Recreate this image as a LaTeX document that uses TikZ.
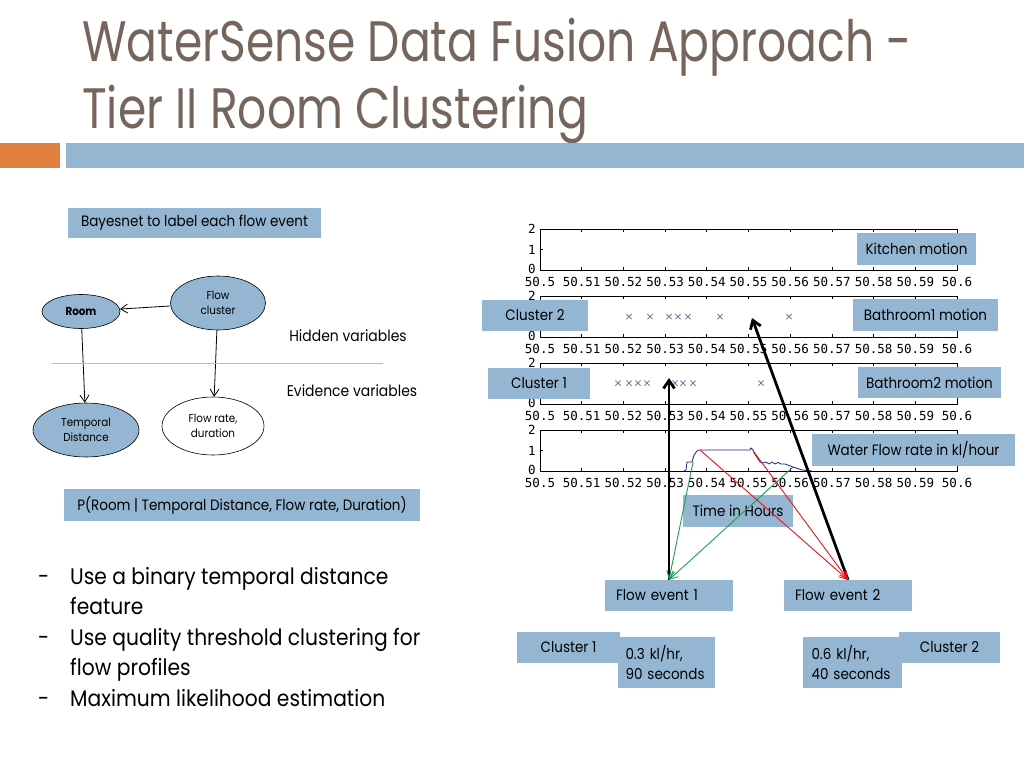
\documentclass[tikz,border=0pt]{standalone}
\usepackage{fontspec}
\setmainfont{Poppins}[FakeStretch=0.9]
\newfontfamily\titlefont{Poppins}[FakeStretch=0.8]
\newfontfamily\plotmono{DejaVu Sans Mono}
\usetikzlibrary{arrows.meta,shapes.geometric}
\definecolor{boxblue}{RGB}{148,182,210}
\definecolor{titlebrown}{RGB}{118,101,92}
\definecolor{barorange}{RGB}{224,128,64}
\definecolor{sepblue}{RGB}{157,195,230}
\definecolor{flowgreen}{RGB}{30,160,80}
\definecolor{flowred}{RGB}{232,20,28}
\definecolor{curvenavy}{RGB}{30,40,120}
\definecolor{markgray}{RGB}{95,105,150}
\newcommand{\fsz}[2]{\fontsize{#1}{#2}\selectfont}
\tikzset{
  titletxt/.style={inner sep=0pt, text=titlebrown, font=\titlefont\fsz{57}{62}},
  lbl/.style={fill=boxblue, inner sep=0pt, text=black, font=\fsz{15}{20}},
  lbll/.style={lbl, align=left, inner ysep=0pt},
  bnnode/.style={ellipse, draw=black, line width=0.6pt, fill=boxblue, inner sep=0pt, align=center, font=\fsz{11.5}{15}},
  bnarrow/.style={-{Straight Barb[length=7pt,width=9pt]}, line width=0.8pt},
  plain/.style={inner sep=0pt, font=\fsz{15.5}{18}},
  bullet/.style={inner sep=0pt, anchor=base west, font=\fsz{22.5}{27}},
  axisline/.style={line width=0.8pt, black},
  ticklbl/.style={inner sep=0pt, font=\plotmono\fsz{12.5}{14}},
  blackarrow/.style={-{Straight Barb[length=8pt,width=11pt]}, line width=2.8pt},
  greenarrow/.style={-{Straight Barb[length=8pt,width=8pt]}, line width=0.9pt, flowgreen},
  redarrow/.style={-{Straight Barb[length=8pt,width=8pt]}, line width=0.9pt, flowred},
  xmark/.style={markgray, line width=0.7pt}
}
\begin{document}
\begin{tikzpicture}[x=1pt,y=-1pt]
\useasboundingbox (0,0) rectangle (1024,768);
\fill[white] (0,0) rectangle (1024,768);

% title
\node[titletxt, anchor=base west] (title1) at (82,62) {WaterSense Data Fusion Approach -};
\node[titletxt, anchor=base west] (title2) at (82,128) {Tier II Room Clustering};
\fill[barorange] (0,143) rectangle (60,168);
\fill[boxblue] (66,143) rectangle (1024,168);

% left: Bayes net
\node[lbl, minimum width=253pt, minimum height=30pt] (bayes) at (194.5,223) {Bayesnet to label each flow event};
\node[bnnode, minimum width=78pt, minimum height=34pt, font=\fsz{11.5}{15}\bfseries] (room) at (81,311.5) {Room};
\node[bnnode, minimum width=95pt, minimum height=54pt] (fc) at (218,303) {Flow\\cluster};
\node[bnnode, minimum width=106pt, minimum height=54pt] (td) at (86,430) {Temporal\\Distance};
\node[bnnode, fill=white, minimum width=102pt, minimum height=58pt] (fr) at (213,426) {Flow rate,\\duration};
\draw[bnarrow] (fc) -- (room);
\draw[bnarrow] (room) -- (td);
\draw[bnarrow] (fc) -- (fr);
\coordinate (sepL) at (52,363);
\coordinate (sepR) at (383,363);
\draw[sepblue, line width=1pt] (sepL) -- (sepR);
\node[plain] (hidden) at (348,336) {Hidden variables};
\node[plain] (evid) at (352,391) {Evidence variables};
\node[lbl, minimum width=356pt, minimum height=32pt] (prob) at (242,505) {P(Room | Temporal Distance, Flow rate, Duration)};

% bullets
\node[bullet] (d1) at (38,584) {-};
\node[bullet] (b1) at (70,584) {Use a binary temporal distance};
\node[bullet] (b1b) at (70,614.5) {feature};
\node[bullet] (d2) at (38,645) {-};
\node[bullet] (b2) at (70,645) {Use quality threshold clustering for};
\node[bullet] (b2b) at (70,675.5) {flow profiles};
\node[bullet] (d3) at (38,706) {-};
\node[bullet] (b3) at (70,706) {Maximum likelihood estimation};

% right: plots
\foreach \top [count=\k] in {229,296,363,430} {
  \pgfmathsetmacro\bot{\top+41}
  \pgfmathsetmacro\mid{\top+20.5}
  \draw[axisline] (540,\top) rectangle (957,\bot);
  \foreach \i in {1,...,9} {
    \pgfmathsetmacro\xx{540+41.7*\i}
    \draw[axisline] (\xx,\top) -- ++(0,3);
    \draw[axisline] (\xx,\bot) -- ++(0,-3);
  }
  \draw[axisline] (540,\mid) -- ++(3,0);
  \draw[axisline] (957,\mid) -- ++(-3,0);
  \node[ticklbl] (ytwo\k) at (532,\top) {2};
  \node[ticklbl] (yzero\k) at (532,\bot-1) {0};
  \foreach \i/\l in {0/50.5,1/50.51,2/50.52,3/50.53,4/50.54,5/50.55,6/50.56,7/50.57,8/50.58,9/50.59,10/50.6}
    \node[ticklbl] (xl\k-\i) at (540+41.7*\i,\bot+12) {\l};
}
\node[ticklbl] (yone1) at (532,249.5) {1};
\node[ticklbl] (yone4) at (532,450.5) {1};

% motion marks
\foreach \xx in {629,650,669,678,688,720,789}
  \draw[xmark] (\xx-2.6,314) -- (\xx+2.6,319.2) (\xx-2.6,319.2) -- (\xx+2.6,314);
\foreach \xx in {618,629,638,647,675,683,693,761}
  \draw[xmark] (\xx-2.6,380.5) -- (\xx+2.6,385.7) (\xx-2.6,385.7) -- (\xx+2.6,380.5);

% flow curve
\draw[curvenavy, line width=0.8pt] (684,471) -- (686,470) -- (687,462) -- (692,462) -- (694,455) -- (697,451) -- (699,450) -- (750,450) -- (751,448) -- (753,450) -- (754,453) -- (760,462)
  -- (763,463) -- (766,462) -- (769,464) -- (772,462) -- (775,464) -- (778,462.5) -- (781,464) -- (785,464) -- (793,467) -- (802,470) -- (812,471);

% labels on plots
\node[lbl, minimum width=119pt, minimum height=32pt] (kitchen) at (916.5,249) {Kitchen motion};
\node[lbl, minimum width=145pt, minimum height=32pt] (bath1) at (925.5,315) {Bathroom1 motion};
\node[lbl, minimum width=143pt, minimum height=31pt] (bath2) at (929.5,382.5) {Bathroom2 motion};
\node[lbl, minimum width=203pt, minimum height=32pt] (water) at (913.5,450) {Water Flow rate in kl/hour};
\node[lbl, minimum width=106pt, minimum height=31pt] (clus2) at (535,315.5) {Cluster 2};
\node[lbl, minimum width=102pt, minimum height=31pt] (clus1) at (539,383) {Cluster 1};
\node[lbl, minimum width=110pt, minimum height=32pt] (time) at (738,511) {Time in Hours};

% flow events
\node[lbll, text width=106pt, inner xsep=11pt, minimum height=31pt] (fe1) at (669,595.5) {Flow event 1};
\node[lbll, text width=106pt, inner xsep=11pt, minimum height=31pt] (fe2) at (848,595.5) {Flow event 2};
\node[lbl, minimum width=103pt, minimum height=31pt] (cl1b) at (568.5,647) {Cluster 1};
\node[lbll, text width=82pt, inner xsep=7.5pt, minimum height=51pt] (v1) at (666.5,662) {\mbox{0.3 kl/hr,}\\\mbox{90 seconds}};
\node[lbl, minimum width=101pt, minimum height=31pt] (cl2b) at (949.5,647) {Cluster 2};
\node[lbll, text width=82pt, inner xsep=8.5pt, minimum height=51pt] (v2) at (852.5,662) {\mbox{0.6 kl/hr,}\\\mbox{40 seconds}};

% connectors
\coordinate (tip1) at (669,378);
\coordinate (tip2) at (752,318);
\coordinate (g1) at (693,462);
\coordinate (g2) at (793,467);
\coordinate (r1) at (700,450);
\coordinate (r2) at (754,452);
\draw[blackarrow] (fe1.north) -- (tip1);
\draw[blackarrow] (fe2.north) -- (tip2);
\draw[greenarrow] (g1) -- (fe1.north);
\draw[greenarrow] (g2) -- (fe1.north);
\draw[redarrow] (r1) -- (fe2.north);
\draw[redarrow] (r2) -- (fe2.north);
\end{tikzpicture}
\end{document}
